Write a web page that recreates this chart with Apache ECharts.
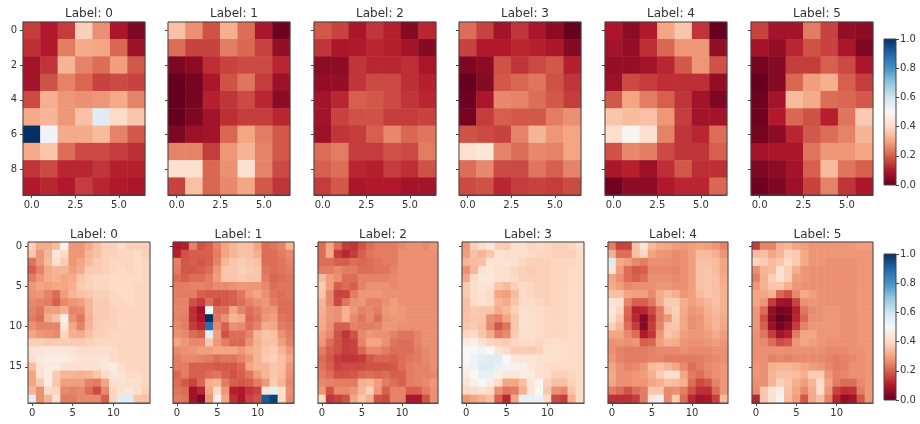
<!DOCTYPE html>
<html><head><meta charset="utf-8">
<style>html,body{margin:0;padding:0;background:#fff}#c{width:920px;height:424px;filter:blur(0.45px)}</style>
<script src="https://cdn.jsdelivr.net/npm/echarts@6/dist/echarts.min.js"></script></head>
<body><div id="c"></div>
<script>
// Cell values are in hundredths of the 0..1 colour scale.
const coarseLabels = ['Label: 0','Label: 1','Label: 2','Label: 3','Label: 4','Label: 5'];
const coarse0 = [[15,10,15,38,27,9,3],[13,10,24,31,30,21,7],[8,14,33,25,22,29,19],[8,18,25,21,16,17,16],[17,32,28,27,28,31,25],[31,33,28,35,56,40,36],[100,52,31,31,34,25,19],[31,36,22,17,17,15,13],[14,17,12,12,14,11,11],[10,12,10,15,12,10,9]];
const coarse1 = [[35,27,18,32,22,9,1],[22,16,16,24,21,16,6],[3,5,13,16,17,17,12],[0,2,9,18,23,15,7],[0,2,11,14,17,12,5],[0,3,8,13,15,15,12],[3,7,8,21,30,24,19],[25,25,15,28,33,25,19],[42,42,21,27,42,25,17],[16,35,21,26,30,19,14]];
const coarse2 = [[19,16,9,14,11,4,12],[14,9,10,12,11,8,4],[5,5,14,12,12,13,9],[6,6,14,17,17,13,11],[8,12,20,19,17,14,12],[8,16,18,18,15,15,16],[7,14,15,20,26,21,23],[22,24,15,15,18,17,24],[20,22,12,11,15,13,18],[15,19,9,10,10,8,8]];
const coarse3 = [[22,16,8,14,9,5,0],[16,10,10,12,11,9,4],[3,5,18,14,17,19,11],[0,4,19,21,23,18,14],[1,9,26,25,22,19,15],[2,15,20,19,19,24,27],[18,17,16,25,33,28,30],[42,44,25,22,26,25,30],[22,26,17,17,23,20,25],[17,18,12,15,16,15,17]];
const coarse4 = [[9,5,10,30,36,14,0],[8,6,13,21,28,28,6],[6,6,8,12,19,28,18],[7,17,15,13,13,13,6],[19,30,24,20,14,8,3],[36,34,35,28,15,8,8],[41,49,42,25,14,12,22],[18,26,24,17,14,14,20],[9,11,7,13,19,13,13],[1,5,5,10,12,12,21]];
const coarse5 = [[16,8,8,24,16,6,5],[8,6,12,18,16,9,3],[2,4,15,15,20,17,9],[0,4,21,29,32,20,15],[1,8,34,31,22,21,19],[1,10,21,18,11,23,37],[2,5,12,19,22,25,33],[8,9,9,23,28,28,30],[3,5,8,20,34,23,20],[1,3,7,16,25,14,9]];
const fine0 = [[38,31,31,34,49,28,28,31,35,38,38,40,38,38,38],[36,28,33,44,40,28,28,33,35,38,38,39,39,40,38],[23,28,34,42,37,28,30,34,37,38,39,39,39,40,39],[20,25,31,33,33,29,31,37,37,38,39,40,39,40,39],[24,28,31,32,30,31,36,38,39,39,40,40,40,40,39],[28,30,29,30,30,32,37,38,39,39,40,40,40,39,39],[27,28,25,22,29,33,35,36,38,38,39,40,40,39,39],[26,25,24,20,26,28,29,33,37,37,39,39,40,39,39],[25,23,29,29,32,25,26,33,37,37,38,39,39,39,39],[24,22,31,35,47,27,23,32,37,37,38,39,39,39,39],[27,25,25,25,44,30,25,33,37,38,38,39,39,39,39],[30,28,27,26,39,32,31,35,38,38,39,39,39,39,39],[38,38,37,37,37,37,37,38,39,39,39,39,39,39,39],[42,43,44,44,44,43,41,41,41,41,40,39,39,39,39],[41,45,46,46,46,44,43,42,43,43,40,39,39,39,39],[34,43,45,45,42,42,42,42,42,44,46,41,39,39,39],[30,42,46,37,33,33,32,33,36,40,44,43,40,40,39],[30,37,46,36,29,29,29,25,24,30,41,42,41,41,39],[33,27,40,39,26,25,26,22,17,26,39,42,44,41,38],[55,27,33,42,24,24,26,26,26,20,39,56,56,36,35]];
const fine1 = [[10,11,25,18,20,25,30,33,35,35,30,22,23,25,33],[11,18,20,20,20,24,30,33,35,35,32,22,22,24,26],[25,19,20,19,20,25,33,36,37,36,35,22,22,23,25],[24,19,19,20,22,28,36,36,38,37,36,23,22,23,24],[22,20,22,22,24,29,36,36,37,36,36,24,21,22,23],[24,24,25,25,24,26,26,27,28,28,28,26,22,23,23],[24,24,24,20,19,19,19,20,23,28,30,27,23,22,23],[25,25,18,15,22,17,19,20,22,25,27,28,24,22,22],[25,25,13,8,50,22,22,30,25,22,24,27,28,22,22],[25,24,13,9,100,23,27,33,31,21,23,28,29,23,22],[26,24,15,12,88,26,20,27,26,22,25,31,30,24,23],[27,26,22,20,55,29,18,22,22,25,33,36,35,27,24],[30,28,26,26,36,28,24,21,21,27,32,35,35,29,25],[26,27,28,29,29,30,30,30,28,31,33,36,37,33,28],[24,26,26,25,24,22,23,23,25,28,33,37,38,35,30],[24,24,20,20,20,19,19,19,21,30,33,33,36,35,28],[21,24,20,20,22,23,20,18,20,23,29,33,36,34,27],[22,19,16,21,32,33,24,20,19,20,24,28,37,33,26],[23,22,8,12,30,40,28,11,10,14,16,43,55,42,27],[24,23,8,3,28,47,30,13,9,16,18,92,97,40,26]];
const fine2 = [[22,30,22,15,14,18,22,24,24,24,26,27,27,26,28],[22,31,15,12,15,20,23,24,24,24,27,27,27,27,27],[22,22,20,20,22,21,22,23,24,24,27,27,27,27,27],[24,24,26,24,24,22,22,23,23,25,27,27,27,27,27],[34,29,27,22,22,25,25,25,25,26,27,27,27,27,27],[37,29,20,22,20,25,27,27,27,26,27,27,27,27,27],[36,26,16,16,24,28,28,28,27,27,27,27,27,27,27],[33,26,17,23,27,28,25,25,27,29,27,27,27,27,27],[32,28,27,32,28,25,26,24,28,29,28,27,27,27,27],[31,28,27,32,26,23,26,22,27,28,28,27,27,27,27],[31,27,20,20,25,24,24,25,28,28,27,27,27,27,27],[29,26,18,14,18,26,28,27,27,25,23,23,25,27,27],[28,22,18,15,16,25,30,30,27,23,22,22,25,27,27],[24,20,18,15,16,21,26,26,24,22,22,22,24,26,27],[22,19,15,14,14,15,19,21,21,20,22,23,24,26,27],[23,20,16,17,17,17,18,18,18,19,22,24,25,25,27],[24,22,18,18,19,21,22,21,22,20,20,24,25,25,26],[26,25,24,24,24,32,33,29,24,22,20,24,25,26,28],[28,18,26,26,28,33,38,28,20,25,25,20,20,24,27],[40,14,16,18,30,36,32,18,17,25,25,9,9,18,27]];
const fine3 = [[28,38,41,44,38,37,41,41,39,40,39,38,38,39,41],[29,35,33,36,42,41,41,41,40,39,39,38,38,38,40],[33,34,35,43,43,43,42,39,38,38,38,39,39,39,40],[27,33,42,44,42,41,39,38,37,38,38,39,39,40,40],[30,40,44,44,42,42,40,38,38,38,38,39,39,40,40],[37,41,43,42,36,34,38,40,39,38,38,39,39,40,40],[37,41,42,40,30,29,34,40,39,38,38,39,39,40,40],[35,40,42,40,33,31,36,40,40,39,38,39,39,40,40],[35,37,36,36,31,34,38,42,41,40,39,39,39,40,40],[35,36,36,27,25,30,36,42,41,40,39,39,39,40,40],[36,37,35,26,19,23,36,42,41,40,39,39,39,40,40],[39,40,36,31,24,26,37,41,41,40,39,39,39,40,40],[46,48,42,39,38,37,39,40,40,39,40,41,40,40,40],[50,50,52,50,43,40,37,37,37,38,41,42,41,40,40],[50,53,55,56,56,50,44,43,43,42,42,42,41,40,40],[48,52,56,56,54,52,48,47,44,42,40,40,40,40,40],[46,50,54,54,47,44,44,46,46,42,41,38,38,39,40],[43,47,50,46,40,30,30,35,44,48,38,35,35,38,40],[40,41,42,40,27,23,24,32,43,50,36,27,26,36,40],[28,30,32,35,20,12,30,54,54,53,40,17,15,32,40]];
const fine4 = [[24,16,16,35,43,34,31,30,29,28,29,30,29,28,25],[32,22,22,35,39,30,28,28,26,27,29,34,34,32,28],[56,31,29,26,24,27,27,27,26,27,29,35,35,34,30],[44,29,22,19,20,26,26,26,25,27,29,35,36,34,30],[30,27,22,20,22,27,27,27,26,27,29,35,36,35,31],[31,29,26,27,27,27,28,28,27,27,29,35,36,35,32],[35,35,30,29,29,26,31,34,32,28,29,34,36,35,32],[43,42,25,20,20,23,31,37,37,32,29,31,33,35,32],[45,39,21,11,12,17,24,35,38,31,28,29,32,34,32],[43,36,20,12,4,14,24,28,37,30,27,28,31,33,31],[38,33,22,15,4,15,25,35,36,30,27,28,30,33,30],[30,30,26,22,10,14,28,36,34,29,28,28,29,31,29],[27,28,27,28,20,21,29,32,31,28,27,27,28,29,28],[27,25,24,24,24,25,26,26,26,27,26,26,26,27,27],[28,25,24,24,24,25,25,24,24,24,24,24,25,26,27],[30,27,25,26,28,34,35,33,30,26,22,24,26,27,28],[31,27,27,28,29,32,37,41,41,30,24,22,25,27,28],[30,27,27,28,28,30,32,35,34,32,22,17,19,25,28],[24,22,18,22,24,36,36,26,27,24,18,13,13,22,28],[13,13,13,15,24,44,54,26,37,22,12,8,9,16,34]];
const fine5 = [[15,25,25,32,33,30,29,28,28,28,28,28,28,29,29],[34,35,30,33,38,37,31,28,28,28,28,28,28,28,28],[39,37,34,36,40,37,31,28,28,27,27,27,27,28,28],[27,33,34,42,38,32,28,27,27,27,27,27,27,28,28],[24,32,38,42,38,29,28,27,27,27,27,27,27,28,28],[28,32,36,36,32,28,27,27,27,27,27,27,27,28,28],[30,30,32,21,18,26,31,29,27,27,27,27,27,28,28],[30,28,15,8,7,16,27,28,27,27,27,27,27,28,28],[28,22,6,2,3,11,23,26,27,28,28,27,27,28,28],[28,18,5,0,2,12,21,27,27,28,28,27,27,28,28],[28,20,7,2,5,15,25,28,28,28,28,27,27,28,28],[27,23,15,8,11,24,30,30,28,28,28,27,27,28,28],[27,26,22,17,19,28,30,29,28,27,27,27,27,28,28],[27,27,27,27,27,27,27,27,27,26,26,26,27,27,28],[27,27,25,26,25,26,26,26,26,25,24,25,26,27,28],[28,27,32,33,33,32,30,29,28,26,24,25,27,27,28],[28,27,33,35,35,34,32,37,37,28,25,26,27,27,28],[27,27,33,38,36,32,29,33,40,30,24,22,22,26,28],[26,36,43,46,35,30,26,31,41,28,16,13,14,24,28],[12,36,42,52,34,29,19,31,35,25,12,6,8,19,28]];

const coarseXTicks = [0, 2.5, 5];
const coarseYTicks = [0, 2, 4, 6, 8];
const fineXTicks = [0, 5, 10];
const fineYTicks = [0, 5, 10, 15];
const colorbarTicks = [0, 0.2, 0.4, 0.6, 0.8, 1];
const RdBu = ['#67001f','#b2182b','#d6604d','#f4a582','#fddbc7','#f7f7f7','#d1e5f0','#92c5de','#4393c3','#2166ac','#053061'];

const TEXT = '#333', LINE = '#444', FONT = '"DejaVu Sans", sans-serif';
const range = n => Array.from({length: n}, (_, i) => i);

const panels = [
  ...[coarse0,coarse1,coarse2,coarse3,coarse4,coarse5].map((m,i)=>({m,i,title:coarseLabels[i],
    left:[23,168,314,459,605,751][i],top:22,titleTop:2,width:122,height:173,xt:coarseXTicks,yt:coarseYTicks,xf:v=>v.toFixed(1)})),
  ...[fine0,fine1,fine2,fine3,fine4,fine5].map((m,i)=>({m,i,title:coarseLabels[i],
    left:[28,173,318,462,608,752][i],top:242,titleTop:223,width:[122,121,120,122,120,121][i],height:161,xt:fineXTicks,yt:fineYTicks,xf:v=>String(v)}))
];

const grid=[], xAxis=[], yAxis=[], series=[], title=[];
panels.forEach((p,k)=>{
  const rows=p.m.length, cols=p.m[0].length;
  grid.push({left:p.left,top:p.top,width:p.width,height:p.height,z:5,show:true,backgroundColor:'transparent',borderColor:LINE,borderWidth:1});
  title.push({text:p.title,left:p.left+p.width/2,top:p.titleTop,textAlign:'center',
    textStyle:{fontFamily:FONT,fontSize:12,fontWeight:'normal',color:TEXT,lineHeight:14}});
  const gx=xAxis.length, gy=yAxis.length;
  xAxis.push({type:'category',gridIndex:k,data:range(cols),show:false});
  yAxis.push({type:'category',gridIndex:k,data:range(rows),inverse:true,show:false});
  xAxis.push({type:'value',gridIndex:k,min:-0.5,max:cols-0.5,position:'bottom',splitLine:{show:false},
    axisLine:{show:true,onZero:false,lineStyle:{color:LINE}},
    axisTick:{show:true,length:3,customValues:p.xt,lineStyle:{color:LINE}},
    axisLabel:{show:true,customValues:p.xt,formatter:p.xf,fontFamily:FONT,fontSize:10,color:TEXT,margin:5}});
  yAxis.push({type:'value',gridIndex:k,min:-0.5,max:rows-0.5,inverse:true,position:'left',splitLine:{show:false},
    axisLine:{show:true,onZero:false,lineStyle:{color:LINE}},
    axisTick:{show:true,length:3,customValues:p.yt,lineStyle:{color:LINE}},
    axisLabel:{show:p.i===0,customValues:p.yt,formatter:v=>String(v),fontFamily:FONT,fontSize:10,color:TEXT,margin:6}});
  const data=[];
  p.m.forEach((row,y)=>row.forEach((v,x)=>data.push([x,y,v/100])));
  series.push({type:'heatmap',xAxisIndex:gx,yAxisIndex:gy,data,emphasis:{disabled:true},progressive:0,animation:false});
});
const heatIdx=series.map((_,i)=>i);

// colour bars
[{left:884,top:39,width:12,height:146},{left:884,top:254,width:12,height:146}].forEach(b=>{
  const k=grid.length;
  grid.push({...b,z:5,show:true,backgroundColor:'transparent',borderColor:LINE,borderWidth:1});
  const gx=xAxis.length, gy=yAxis.length;
  xAxis.push({type:'value',gridIndex:k,min:0,max:1,show:false});
  yAxis.push({type:'value',gridIndex:k,min:0,max:1,position:'right',splitLine:{show:false},
    axisLine:{show:false,onZero:false},
    axisTick:{show:true,length:3,customValues:colorbarTicks,lineStyle:{color:LINE}},
    axisLabel:{show:true,customValues:colorbarTicks,formatter:v=>v.toFixed(1),fontFamily:FONT,fontSize:10,color:TEXT,margin:4}});
  series.push({type:'custom',xAxisIndex:gx,yAxisIndex:gy,silent:true,animation:false,data:[[0,1]],
    encode:{x:0,y:1},
    renderItem:(params,api)=>{
      const tl=api.coord([0,1]), br=api.coord([1,0]);
      return {type:'rect',shape:{x:tl[0],y:tl[1],width:br[0]-tl[0],height:br[1]-tl[1]},
        style:{fill:new echarts.graphic.LinearGradient(0,1,0,0,RdBu.map((c,i)=>({offset:i/(RdBu.length-1),color:c})))}};
    }});
});

const chart=echarts.init(document.getElementById('c'),null,{renderer:'canvas'});
chart.setOption({animation:false,backgroundColor:'#fff',title,grid,xAxis,yAxis,series,
  visualMap:{type:'continuous',show:false,min:0,max:1,dimension:2,seriesIndex:heatIdx,inRange:{color:RdBu}}});
</script></body></html>
